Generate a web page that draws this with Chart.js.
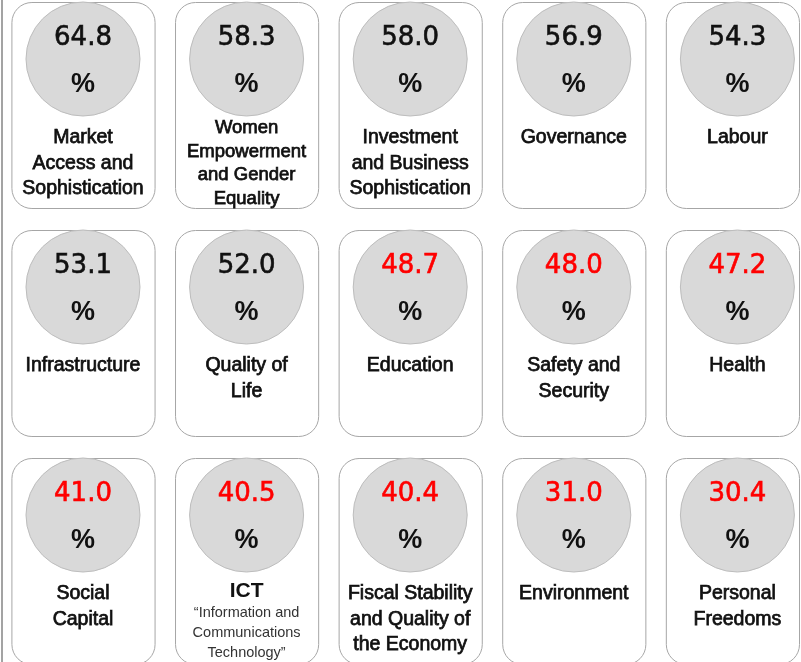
<!DOCTYPE html>
<html>
<head>
<meta charset="utf-8">
<script src="https://cdn.jsdelivr.net/npm/chart.js@4.4.1/dist/chart.umd.min.js"></script>
<style>
  html, body { margin: 0; padding: 0; background: #fff; }
  #wrap { width: 801px; height: 662px; position: relative; }
</style>
</head>
<body>
<div id="wrap"><canvas id="pillarChart"></canvas></div>
<script>
// pillar scores (%), read left to right, top to bottom
var values = [64.8, 58.3, 58.0, 56.9, 54.3, 53.1, 52.0, 48.7, 48.0, 47.2, 41.0, 40.5, 40.4, 31.0, 30.4];
var labels = [
  ["Market", "Access and", "Sophistication"],
  ["Women", "Empowerment", "and Gender", "Equality"],
  ["Investment", "and Business", "Sophistication"],
  ["Governance"],
  ["Labour"],
  ["Infrastructure"],
  ["Quality of", "Life"],
  ["Education"],
  ["Safety and", "Security"],
  ["Health"],
  ["Social", "Capital"],
  ["ICT"],
  ["Fiscal Stability", "and Quality of", "the Economy"],
  ["Environment"],
  ["Personal", "Freedoms"]
];
var notes = [[], [], [], [], [], [], [], [], [], [], [],
  ["\u201cInformation and", "Communications", "Technology\u201d"],
  [], [], []];
var cols = 5;

var cardPlugin = {
  id: "cards",
  beforeDatasetsDraw: function(chart) {
    var ctx = chart.ctx;
    var xs = chart.scales.x;
    var pitch = xs.getPixelForValue(1) - xs.getPixelForValue(0);
    var w = pitch * 0.875, h = 206;
    ctx.save();
    // thin rule down the left edge
    ctx.fillStyle = "#a3a3a3";
    ctx.fillRect(1, 0, 2, chart.height);
    chart.getDatasetMeta(0).data.forEach(function(pt) {
      var left = pt.x - w / 2, top = pt.y - 57;
      var right = Math.min(pt.x + w / 2, chart.chartArea.right - 2);
      ctx.beginPath();
      ctx.roundRect(left + 0.5, top + 0.5, right - left, h, 20);
      ctx.fillStyle = "#fff";
      ctx.fill();
      ctx.lineWidth = 1;
      ctx.strokeStyle = "#a6a6a6";
      ctx.stroke();
    });
    ctx.restore();
  },
  afterDatasetsDraw: function(chart) {
    var ctx = chart.ctx;
    ctx.save();
    ctx.textAlign = "center";
    ctx.textBaseline = "middle";
    chart.getDatasetMeta(0).data.forEach(function(pt, i) {
      var cx = pt.x, cy = pt.y;
      var col = values[i] < 50 ? "#ff0000" : "#111";
      ctx.font = "26px 'DejaVu Sans'";
      ctx.fillStyle = col;
      ctx.strokeStyle = col;
      ctx.lineWidth = 0.6;
      ctx.fillText(values[i].toFixed(1), cx, cy - 21);
      ctx.strokeText(values[i].toFixed(1), cx, cy - 21);
      ctx.font = "bold 27px 'Liberation Sans'";
      ctx.fillStyle = "#111";
      ctx.fillText("%", cx, cy + 26);

      var lines = labels[i];
      var size = lines.length > 3 ? 18.5 : 19.5;
      var gap = lines.length > 3 ? 23.5 : 25.5;
      var y0 = lines.length > 3 ? cy + 69 : cy + 79;
      if (notes[i].length) {
        ctx.font = "bold 21px 'Liberation Sans'";
        ctx.fillText(lines[0], cx, cy + 76);
        ctx.font = "14.5px 'Liberation Sans'";
        ctx.fillStyle = "#333";
        notes[i].forEach(function(t, k) {
          ctx.fillText(t, cx, cy + 98 + k * 20);
        });
        return;
      }
      ctx.font = size + "px 'Liberation Sans'";
      ctx.strokeStyle = "#111";
      ctx.lineWidth = 0.75;
      lines.forEach(function(t, k) {
        ctx.fillText(t, cx, y0 + k * gap);
        ctx.strokeText(t, cx, y0 + k * gap);
      });
    });
    ctx.restore();
  }
};

new Chart("pillarChart", {
  type: "bubble",
  data: {
    datasets: [{
      data: values.map(function(v, i) {
        return { x: i % cols, y: Math.floor(i / cols), r: 57 };
      }),
      backgroundColor: "#d9d9d9",
      borderColor: "#bdbdbd",
      borderWidth: 1
    }]
  },
  options: {
    responsive: true,
    maintainAspectRatio: false,
    animation: false,
    events: [],
    layout: { padding: 0, autoPadding: false },
    plugins: { legend: { display: false }, tooltip: { enabled: false } },
    scales: {
      x: { type: "linear", min: -0.5073, max: 4.3888, display: false },
      y: { type: "linear", min: -0.2588, max: 2.6447, reverse: true, display: false }
    }
  },
  plugins: [cardPlugin]
});
</script>
</body>
</html>
